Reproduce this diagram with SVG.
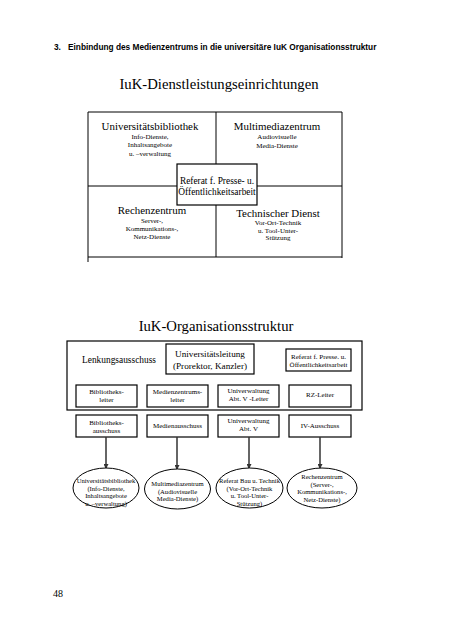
<svg xmlns="http://www.w3.org/2000/svg" width="452" height="640" viewBox="0 0 452 640">
<defs>
<style>
.t{font-family:"Liberation Serif","Times New Roman",serif;fill:#000;text-anchor:middle}
.h{font-family:"Liberation Sans",Arial,sans-serif;font-weight:bold;font-size:8.3px;fill:#000}
.ln{stroke:#000;stroke-width:1;fill:none}
.bx{stroke:#000;stroke-width:1.2;fill:#fff}
.el{stroke:#000;stroke-width:1;fill:#fff}
.ar{stroke:#333;stroke-width:1.5;fill:none;marker-end:url(#ah)}
.s12{font-size:10.9px}.s7{font-size:7px}.s6{font-size:6.6px}.s10{font-size:9.4px}
</style>
<marker id="ah" markerWidth="5" markerHeight="5" refX="4" refY="2.5" orient="auto" markerUnits="userSpaceOnUse">
<path d="M0,0 L5,2.5 L0,5 z" fill="#333"/>
</marker>
</defs>
<rect width="452" height="640" fill="#fff"/>
<text class="h" x="54" y="50">3.</text>
<text class="h" x="68" y="50">Einbindung des Medienzentrums in die universitäre IuK Organisationsstruktur</text>
<text class="t" x="219" y="89" font-size="14.7">IuK-Dienstleistungseinrichtungen</text>

<g id="grid">
<path class="ln" d="M88,112 H342 M88,112 V262 M342,112 V258 M216,112 V257 M88,186 H342 M88,257 H342"/>
</g>
<g id="n-ub">
<text class="t s12" x="150" y="130">Universitätsbibliothek</text>
<text class="t s7" x="150" y="139">Info-Dienste,</text>
<text class="t s7" x="150" y="147">Inhaltsangebote</text>
<text class="t s7" x="150" y="156">u. –verwaltung</text>
</g>
<g id="n-mm">
<text class="t s12" x="277" y="130">Multimediazentrum</text>
<text class="t s7" x="277" y="139">Audiovisuelle</text>
<text class="t s7" x="277" y="148">Media-Dienste</text>
</g>
<g id="n-rz">
<text class="t s12" x="152" y="214">Rechenzentrum</text>
<text class="t s7" x="152" y="223">Server-,</text>
<text class="t s7" x="152" y="231">Kommunikations-,</text>
<text class="t s7" x="152" y="239">Netz-Dienste</text>
</g>
<g id="n-td">
<text class="t s12" x="278" y="217">Technischer Dienst</text>
<text class="t s7" x="278" y="225">Vor-Ort-Technik</text>
<text class="t s7" x="278" y="233">u. Tool-Unter-</text>
<text class="t s7" x="278" y="240">Stützung</text>
</g>
<g id="n-ref">
<rect class="bx" x="177" y="164" width="80" height="41"/>
<text class="t s10" x="217" y="184">Referat f. Presse- u.</text>
<text class="t s10" x="217" y="195">Öffentlichkeitsarbeit</text>
</g>

<text class="t" x="216" y="331" font-size="14.7">IuK-Organisationsstruktur</text>
<g id="lenkung">
<rect class="bx" x="67" y="341" width="295" height="69" fill="none"/>
<text class="t s10" x="119" y="363">Lenkungsausschuss</text>
</g>
<g id="n-ul">
<rect class="bx" x="166" y="344" width="88" height="30"/>
<text class="t" font-size="9.2" x="210" y="357">Universitätsleitung</text>
<text class="t" font-size="9.2" x="210" y="369">(Prorektor, Kanzler)</text>
</g>
<g id="n-ref2">
<rect class="bx" x="286" y="349" width="65" height="22"/>
<text class="t s7" x="318.5" y="359">Referat f. Presse. u.</text>
<text class="t s7" x="318.5" y="367">Öffentlichkeitsarbeit</text>
</g>
<g id="n-bl">
<rect class="bx" x="76" y="385" width="61" height="22"/>
<text class="t s7" x="106.5" y="394">Bibliotheks-</text>
<text class="t s7" x="106.5" y="402">leiter</text>
</g>
<g id="n-ml">
<rect class="bx" x="147" y="385" width="61" height="22"/>
<text class="t s7" x="177.5" y="394">Medienzentrums-</text>
<text class="t s7" x="177.5" y="402">leiter</text>
</g>
<g id="n-uvl">
<rect class="bx" x="218" y="385" width="61" height="22"/>
<text class="t s7" x="248.5" y="393">Univerwaltung</text>
<text class="t s7" x="248.5" y="401">Abt. V -Leiter</text>
</g>
<g id="n-rzl">
<rect class="bx" x="289" y="385" width="62" height="22"/>
<text class="t s7" x="320" y="397">RZ-Leiter</text>
</g>

<g id="n-ba">
<rect class="bx" x="76" y="415" width="61" height="22"/>
<text class="t s7" x="106.5" y="425">Bibliotheks-</text>
<text class="t s7" x="106.5" y="433">ausschuss</text>
</g>
<g id="n-ma">
<rect class="bx" x="147" y="415" width="61" height="22"/>
<text class="t s7" x="177.5" y="428">Medienausschuss</text>
</g>
<g id="n-uv">
<rect class="bx" x="218" y="415" width="61" height="22"/>
<text class="t s7" x="248.5" y="423">Univerwaltung</text>
<text class="t s7" x="248.5" y="431">Abt. V</text>
</g>
<g id="n-iv">
<rect class="bx" x="289" y="415" width="62" height="22"/>
<text class="t s7" x="320" y="428">IV-Ausschuss</text>
</g>

<g id="connectors">
<line class="ar" x1="106" y1="437" x2="106" y2="468"/>
<line class="ar" x1="177" y1="437" x2="177" y2="469"/>
<line class="ar" x1="249" y1="437" x2="249" y2="468"/>
<line class="ar" x1="320" y1="437" x2="320" y2="468"/>
</g>

<g id="e-ub">
<ellipse class="el" cx="106" cy="488" rx="33" ry="20"/>
<text class="t s6" x="106" y="483">Universitätsbibliothek</text>
<text class="t s6" x="106" y="490.5">(Info-Dienste,</text>
<text class="t s6" x="106" y="498">Inhaltsangebote</text>
<text class="t s6" x="106" y="505.5">u. –verwaltung)</text>
</g>
<g id="e-mm">
<ellipse class="el" cx="177.5" cy="489" rx="33" ry="20"/>
<text class="t s6" x="177.5" y="486">Multimediazentrum</text>
<text class="t s6" x="177.5" y="493.5">(Audiovisuelle</text>
<text class="t s6" x="177.5" y="501">Media-Dienste)</text>
</g>
<g id="e-bau">
<ellipse class="el" cx="249.5" cy="488" rx="33.5" ry="20"/>
<text class="t s6" x="249.5" y="483">Referat Bau u. Technik</text>
<text class="t s6" x="249.5" y="490.5">(Vor-Ort-Technik</text>
<text class="t s6" x="249.5" y="498">u. Tool-Unter-</text>
<text class="t s6" x="249.5" y="505.5">Stützung)</text>
</g>
<g id="e-rz">
<ellipse class="el" cx="322" cy="488" rx="35" ry="20"/>
<text class="t s6" x="322" y="479">Rechenzentrum</text>
<text class="t s6" x="322" y="486.5">(Server-,</text>
<text class="t s6" x="322" y="494">Kommunikations-,</text>
<text class="t s6" x="322" y="501.5">Netz-Dienste)</text>
</g>

<text class="t" x="58" y="597" font-size="10">48</text>
</svg>
